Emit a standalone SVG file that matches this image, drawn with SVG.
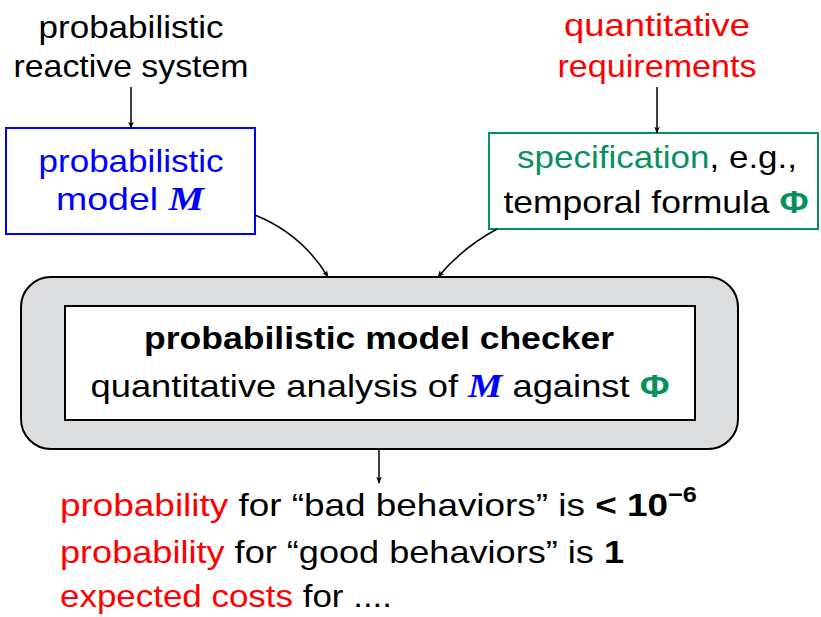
<svg xmlns="http://www.w3.org/2000/svg" width="821" height="617" viewBox="0 0 821 617">
<style>
text{font-family:"Liberation Sans","DejaVu Sans",sans-serif;font-size:32px;fill:#000}
.c{text-anchor:middle}
.red{fill:#ff0000}
.blue{fill:#0000ff}
.grn{fill:#08915e}
.cal{font-family:"Liberation Serif",serif;font-style:italic;font-weight:bold;font-size:34px}
.b{font-weight:bold}
.edge{fill:none;stroke:#000;stroke-width:1.5}
</style>
<defs>
<marker id="ah" viewBox="0 0 10 10" refX="9" refY="5" markerWidth="7" markerHeight="7" orient="auto" markerUnits="userSpaceOnUse">
<path d="M0,1 L10,5 L0,9 L2.5,5 Z" fill="#000"/>
</marker>
</defs>
<rect width="821" height="617" fill="#fff"/>
<g id="n-system">
<text class="c" x="131" y="38" textLength="185" lengthAdjust="spacingAndGlyphs">probabilistic</text>
<text class="c" x="131" y="77" textLength="235" lengthAdjust="spacingAndGlyphs">reactive system</text>
</g>
<g id="n-requirements">
<text class="c red" x="657" y="36" textLength="186" lengthAdjust="spacingAndGlyphs">quantitative</text>
<text class="c red" x="657" y="77" textLength="199" lengthAdjust="spacingAndGlyphs">requirements</text>
</g>
<g id="n-model">
<rect x="6" y="128" width="249" height="106" fill="#fff" stroke="#0000ff" stroke-width="2"/>
<text class="c blue" x="131" y="172" textLength="185" lengthAdjust="spacingAndGlyphs">probabilistic</text>
<text class="c blue" x="130" y="210" textLength="148" lengthAdjust="spacingAndGlyphs">model <tspan class="cal">M</tspan></text>
</g>
<g id="n-spec">
<rect x="489" y="133" width="329" height="96" fill="#fff" stroke="#08915e" stroke-width="2"/>
<text class="c" x="657" y="168" textLength="280" lengthAdjust="spacingAndGlyphs"><tspan class="grn">specification</tspan>, e.g.,</text>
<text class="c" x="656" y="213" textLength="305" lengthAdjust="spacingAndGlyphs">temporal formula <tspan class="grn b">Φ</tspan></text>
</g>
<g id="n-checker">
<rect x="21" y="277" width="717" height="172" rx="30" ry="30" fill="#dcdddf" stroke="#000" stroke-width="2"/>
<rect x="65" y="306" width="630" height="114" fill="#fff" stroke="#000" stroke-width="2"/>
<text class="c b" x="379" y="349" textLength="470" lengthAdjust="spacingAndGlyphs">probabilistic model checker</text>
<text class="c" x="380" y="397" textLength="579" lengthAdjust="spacingAndGlyphs">quantitative analysis of <tspan class="blue cal">M</tspan> against <tspan class="grn b">Φ</tspan></text>
</g>
<g id="n-results">
<text x="60" y="516" textLength="637" lengthAdjust="spacingAndGlyphs"><tspan class="red">probability</tspan> for “bad behaviors” is <tspan class="b">&lt; 10</tspan><tspan class="b" font-size="22" dy="-14">−6</tspan></text>
<text x="60" y="563" textLength="564" lengthAdjust="spacingAndGlyphs"><tspan class="red">probability</tspan> for “good behaviors” is <tspan class="b">1</tspan></text>
<text x="60" y="607" textLength="332" lengthAdjust="spacingAndGlyphs"><tspan class="red">expected costs</tspan> for ....</text>
</g>
<g id="connectors">
<path class="edge" d="M131,87 L131,128" marker-end="url(#ah)"/>
<path class="edge" d="M657,87 L657,133" marker-end="url(#ah)"/>
<path class="edge" d="M255,215 Q302,234 328,277" marker-end="url(#ah)"/>
<path class="edge" d="M497,229 Q462,248 438,277" marker-end="url(#ah)"/>
<path class="edge" d="M379,449 L379,483" marker-end="url(#ah)"/>
</g>
</svg>
